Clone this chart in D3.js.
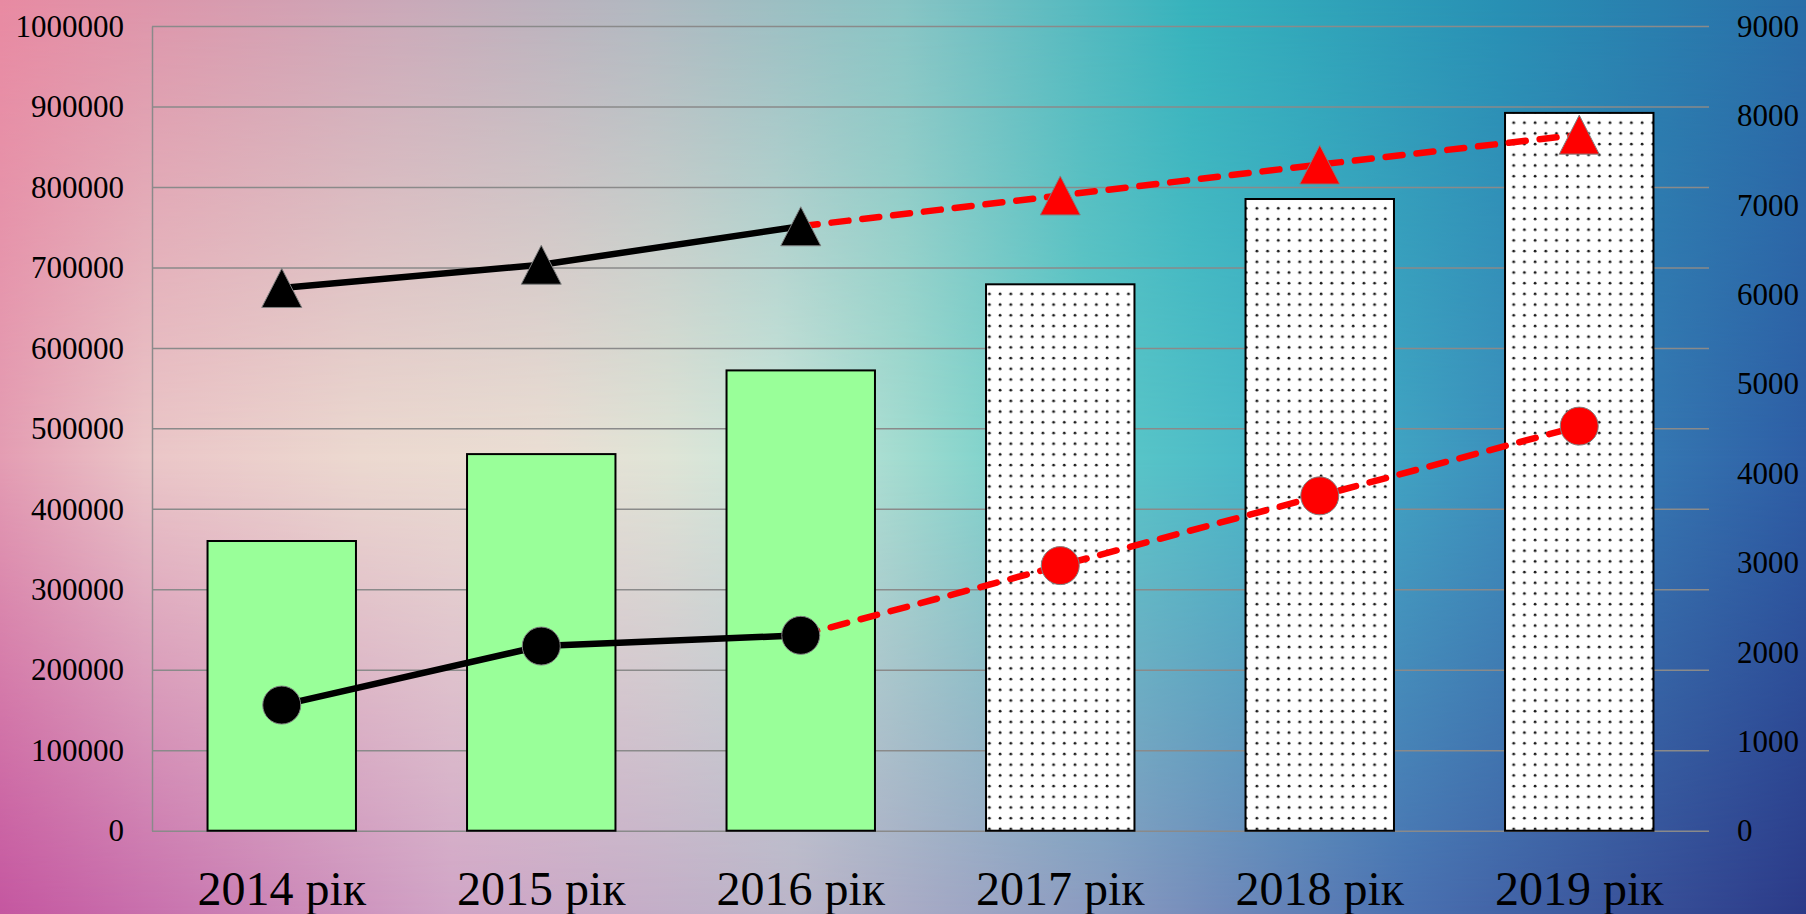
<!DOCTYPE html>
<html>
<head>
<meta charset="utf-8">
<script src="https://cdn.jsdelivr.net/npm/d3@7"></script>
<style>
  html, body { margin: 0; padding: 0; overflow: hidden; }
  svg { display: block; }
  text { font-family: "Liberation Serif", "Times New Roman", serif; fill: #000; }
</style>
</head>
<body>
<div id="chart"></div>
<script>
// data
var years = ["2014 рік", "2015 рік", "2016 рік", "2017 рік", "2018 рік", "2019 рік"];
var barValues = [360000, 468000, 572000, 679000, 785000, 892000];
var triValues = [6070, 6330, 6760, 7105, 7450, 7785];
var circleValues = [1405, 2065, 2185, 2965, 3745, 4525];
var forecast = [false, false, false, true, true, true];
var leftTicks = [0, 100000, 200000, 300000, 400000, 500000, 600000, 700000, 800000, 900000, 1000000];
var rightTicks = [0, 1000, 2000, 3000, 4000, 5000, 6000, 7000, 8000, 9000];

var width = 1806, height = 914;
var plot = { left: 152, right: 1709, top: 26, bottom: 830.7 };

var svg = d3.select("#chart").append("svg")
    .attr("width", width)
    .attr("height", height);
var defs = svg.append("defs");

// background: three horizontal gradients blended top / middle / bottom
function hGrad(id, stops) {
    var g = defs.append("linearGradient").attr("id", id)
        .attr("x1", 0).attr("x2", 1).attr("y1", 0).attr("y2", 0);
    stops.forEach(function(s) {
        g.append("stop").attr("offset", s[0]).attr("stop-color", s[1]);
    });
}
hGrad("bgMid", [[0, "#e49db3"], [0.08, "#ebc6c8"], [0.2, "#ecd9d0"], [0.3, "#ebdfd4"], [0.37, "#dfe5d7"],
    [0.43, "#cbe7db"], [0.5, "#a2dcd0"], [0.6, "#5ecac8"], [0.72, "#44b4c8"], [0.84, "#3c8ebc"], [1, "#2e5ea6"]]);
hGrad("bgTop", [[0, "#e88aa2"], [0.22, "#caa8b8"], [0.36, "#b0b8c0"], [0.5, "#88c4c4"], [0.66, "#36b2bc"],
    [0.83, "#2890b4"], [1, "#2a6ea8"]]);
hGrad("bgBot", [[0, "#c456a0"], [0.25, "#d0a4c6"], [0.44, "#bab4c8"], [0.61, "#8a9ac0"],
    [0.78, "#4a70b0"], [1, "#2c3a88"]]);

function vMask(id, stops) {
    var g = defs.append("linearGradient").attr("id", id + "G")
        .attr("x1", 0).attr("x2", 0).attr("y1", 0).attr("y2", 1);
    stops.forEach(function(s) {
        g.append("stop").attr("offset", s[0]).attr("stop-color", "#fff").attr("stop-opacity", s[1]);
    });
    defs.append("mask").attr("id", id)
        .append("rect").attr("width", width).attr("height", height)
        .attr("fill", "url(#" + id + "G)");
}
vMask("mTop", [[0, 1], [0.5, 0]]);
vMask("mBot", [[0.5, 0], [1, 1]]);

svg.append("rect").attr("width", width).attr("height", height).attr("fill", "url(#bgMid)");
svg.append("rect").attr("width", width).attr("height", height).attr("fill", "url(#bgTop)")
    .attr("mask", "url(#mTop)");
svg.append("rect").attr("width", width).attr("height", height).attr("fill", "url(#bgBot)")
    .attr("mask", "url(#mBot)");

// dotted fill for forecast bars
var pat = defs.append("pattern").attr("id", "dots")
    .attr("patternUnits", "userSpaceOnUse")
    .attr("width", 10.7).attr("height", 10.7);
pat.append("rect").attr("width", 10.7).attr("height", 10.7).attr("fill", "#fff");
pat.append("circle").attr("cx", 5).attr("cy", 5).attr("r", 1.4).attr("fill", "#1a1a1a");

// scales
var x = d3.scaleBand().domain(years).range([plot.left, plot.right]).paddingInner(0.428).paddingOuter(0.214);
var yL = d3.scaleLinear().domain([0, 1000000]).range([plot.bottom, plot.top]);
var yR = d3.scaleLinear().domain([0, 9000]).range([plot.bottom, plot.top]);
var cx = function(i) { return x(years[i]) + x.bandwidth() / 2; };

// left axis + gridlines
var leftAxis = svg.append("g")
    .attr("transform", "translate(" + plot.left + ",0)")
    .call(d3.axisLeft(yL).tickValues(leftTicks).tickFormat(d3.format("d"))
        .tickSize(-(plot.right - plot.left)).tickSizeOuter(0).tickPadding(28));
leftAxis.selectAll("line").attr("stroke", "#8a8a8a").attr("stroke-width", 1.5);
leftAxis.select(".domain").attr("stroke", "#8a8a8a").attr("stroke-width", 1.5);
leftAxis.selectAll("text").attr("font-size", 31).attr("dy", "0.33em")
    .style("font-family", "'Liberation Serif', serif");

// right axis (labels only)
var rightAxis = svg.append("g")
    .attr("transform", "translate(" + plot.right + ",0)")
    .call(d3.axisRight(yR).tickValues(rightTicks).tickFormat(d3.format("d"))
        .tickSize(0).tickPadding(28));
rightAxis.select(".domain").remove();
rightAxis.selectAll("text").attr("font-size", 31).attr("dy", "0.33em")
    .style("font-family", "'Liberation Serif', serif");

// category axis
var bottomAxis = svg.append("g")
    .attr("transform", "translate(0," + plot.bottom + ")")
    .call(d3.axisBottom(x).tickSize(0));
bottomAxis.select(".domain").remove();
bottomAxis.selectAll("text").attr("font-size", 48).attr("y", 74).attr("dy", 0)
    .style("font-family", "'Liberation Serif', serif");

// bars
svg.append("g").selectAll("rect")
    .data(barValues)
    .enter().append("rect")
    .attr("x", function(d, i) { return x(years[i]); })
    .attr("y", function(d) { return yL(d); })
    .attr("width", x.bandwidth())
    .attr("height", function(d) { return yL(0) - yL(d); })
    .attr("fill", function(d, i) { return forecast[i] ? "url(#dots)" : "#99ff99"; })
    .attr("stroke", "#000")
    .attr("stroke-width", 2);

// lines: solid black for actual years, red dashed from last actual onwards
var lastActual = forecast.indexOf(true) - 1;
function drawSeries(values) {
    var line = d3.line()
        .x(function(d) { return cx(d); })
        .y(function(d) { return yR(values[d]); });
    var idx = d3.range(values.length);
    svg.append("path")
        .attr("d", line(idx.filter(function(i) { return i <= lastActual; })))
        .attr("fill", "none").attr("stroke", "#000").attr("stroke-width", 6.5)
        .attr("stroke-linecap", "round");
    svg.append("path")
        .attr("d", line(idx.filter(function(i) { return i >= lastActual; })))
        .attr("fill", "none").attr("stroke", "#ff0000").attr("stroke-width", 6.5)
        .attr("stroke-linecap", "round").attr("stroke-dasharray", "17 14");
}
drawSeries(triValues);
drawSeries(circleValues);

// markers
svg.append("g").selectAll("path")
    .data(triValues)
    .enter().append("path")
    .attr("d", "M0,-19.5L20,19.5L-20,19.5Z")
    .attr("transform", function(d, i) { return "translate(" + cx(i) + "," + yR(d) + ")"; })
    .attr("fill", function(d, i) { return forecast[i] ? "#ff0000" : "#000"; })
    .attr("stroke", "#808080").attr("stroke-width", 1);

svg.append("g").selectAll("circle")
    .data(circleValues)
    .enter().append("circle")
    .attr("cx", function(d, i) { return cx(i); })
    .attr("cy", function(d) { return yR(d); })
    .attr("r", 19)
    .attr("fill", function(d, i) { return forecast[i] ? "#ff0000" : "#000"; })
    .attr("stroke", "#808080").attr("stroke-width", 1);
</script>
</body>
</html>
